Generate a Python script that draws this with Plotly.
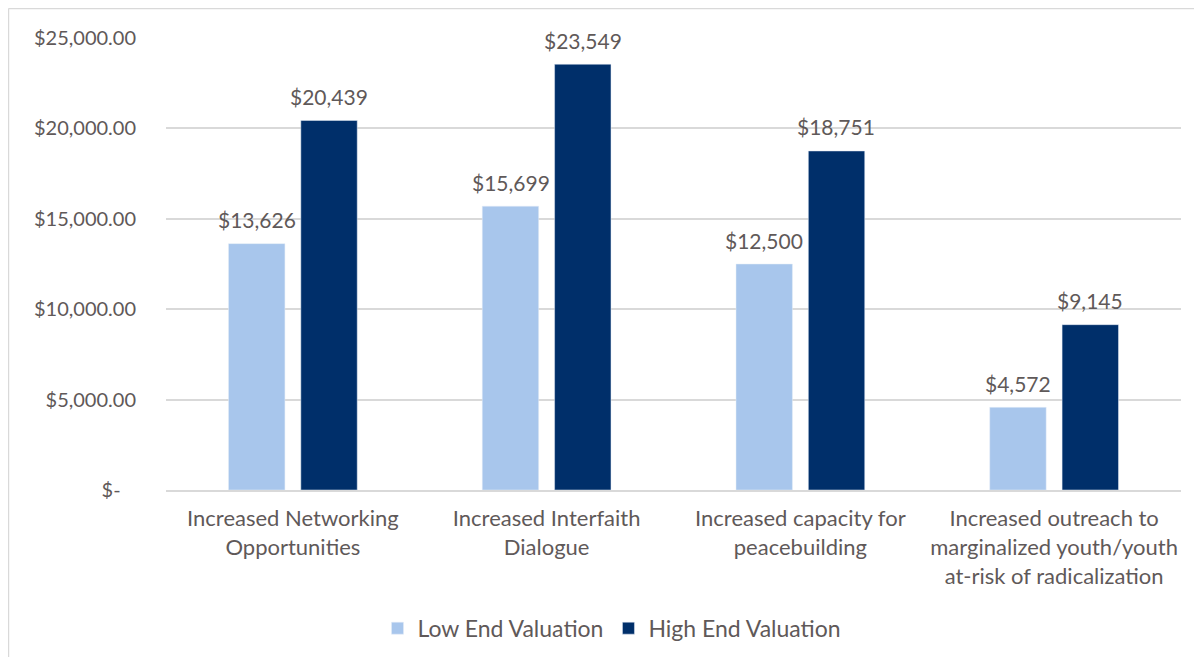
import plotly.graph_objects as go

categories = [
    "Increased Networking<br>Opportunities",
    "Increased Interfaith<br>Dialogue",
    "Increased capacity for<br>peacebuilding",
    "Increased outreach to<br>marginalized youth/youth<br>at-risk of radicalization",
]
low_end = [13626, 15699, 12500, 4572]
high_end = [20439, 23549, 18751, 9145]
y_ticks = [0, 5000, 10000, 15000, 20000, 25000]
y_tick_labels = ["$-\u00a0\u00a0\u00a0", "$5,000.00", "$10,000.00", "$15,000.00", "$20,000.00", "$25,000.00"]

TEXT = "#5f5959"
FONT = "Lato"
LOW = "#a8c6ec"
HIGH = "#002f6a"

fig = go.Figure()
fig.add_trace(go.Bar(x=categories, y=low_end, name="Low End Valuation", marker_color=LOW))
fig.add_trace(go.Bar(x=categories, y=high_end, name="High End Valuation", marker_color=HIGH))

# value labels above bars (offset half a bar slot left/right)
annotations = []
for series, shift in ((low_end, -36), (high_end, 36)):
    for cat, v in zip(categories, series):
        annotations.append(dict(
            x=cat, y=v, text=f"${v:,}", showarrow=False,
            xshift=shift, yshift=24, yanchor="middle",
            font=dict(size=21, color=TEXT),
        ))

fig.update_layout(
    width=1202, height=657,
    margin=dict(l=158, r=29, t=30, b=175),
    plot_bgcolor="white", paper_bgcolor="white",
    font=dict(family=FONT, size=20, color=TEXT),
    barmode="group", bargap=0.43, bargroupgap=0.22,
    showlegend=True,
    legend=dict(orientation="h", xref="container", yref="container",
                x=0.5025, xanchor="center", y=0.056, yanchor="middle",
                font=dict(size=23, color=TEXT)),
    xaxis=dict(showgrid=False, showline=True, linecolor="#d9d9d9", linewidth=2,
               tickfont=dict(size=22, color=TEXT), ticks="", ticklabelstandoff=8,
               automargin=False),
    yaxis=dict(range=[0, 25000], tickvals=y_ticks, ticktext=y_tick_labels,
               showgrid=True, gridcolor="#d9d9d9", gridwidth=1.5, zeroline=False,
               tickfont=dict(size=20, color=TEXT), ticklabelstandoff=29, automargin=False),
    annotations=annotations,
    shapes=[
        dict(type="line", xref="paper", yref="paper", x0=-0.1552, x1=1.05, y0=1.0653, y1=1.0653,
             line=dict(color="#d9d9d9", width=1.5)),
        dict(type="line", xref="paper", yref="paper", x0=-0.1552, x1=-0.1552, y0=-0.4, y1=1.0653,
             line=dict(color="#d9d9d9", width=1.5)),
    ],
)

fig.write_html("out.html")
